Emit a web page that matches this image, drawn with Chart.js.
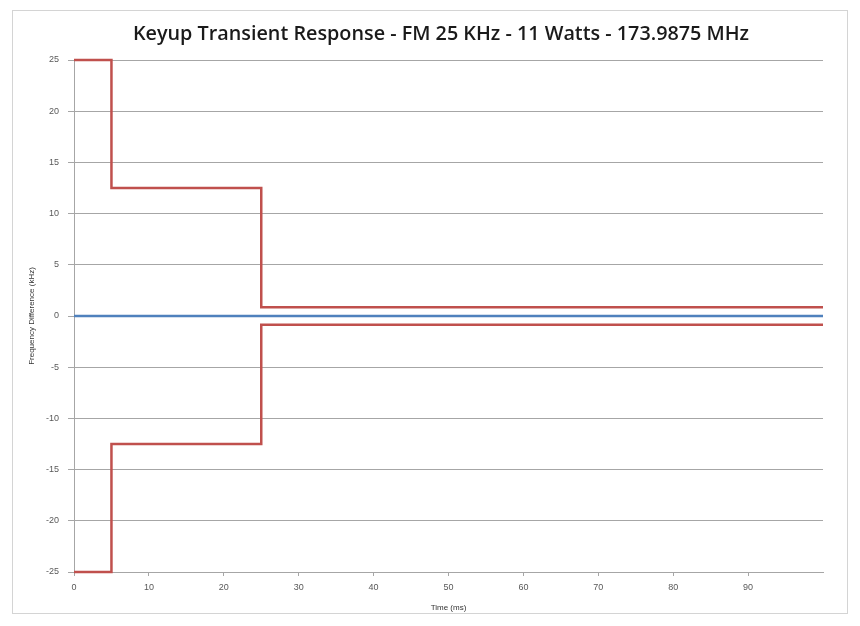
<!DOCTYPE html>
<html>
<head>
<meta charset="utf-8">
<script src="https://cdn.jsdelivr.net/npm/chart.js@4"></script>
<style>
  html, body { margin: 0; padding: 0; background: #ffffff; }
  .frame {
    position: absolute; left: 12px; top: 10px;
    width: 834px; height: 602px;
    border: 1px solid #d4d4d4; background: #fff;
  }
  canvas { display: block; }
</style>
</head>
<body>
<div class="frame"><canvas id="chart" width="834" height="602"></canvas></div>
<script>
// step points (time in ms, frequency difference in kHz)
const maskTime = [0, 5, 25, 100];
const upperLimit = [25, 12.5, 0.85, 0.85];
const lowerLimit = [-25, -12.5, -0.85, -0.85];
const responseTime = [0, 100];
const responseFreq = [0, 0];

const xTicks = [0, 10, 20, 30, 40, 50, 60, 70, 80, 90];

const chartTitle = 'Keyup Transient Response - FM 25 KHz - 11 Watts - 173.9875 MHz';

const red = '#c0504d';
const blue = '#4f81bd';
const tickColor = '#595959';

const toPoints = (xs, ys) => xs.map((x, i) => ({ x: x, y: ys[i] }));

// Excel puts the title over the whole chart frame, not the plot area
const titlePlugin = {
    id: 'frameTitle',
    afterDraw(chart) {
        const ctx = chart.ctx;
        ctx.save();
        ctx.font = '600 19.8px "Open Sans"';
        ctx.fillStyle = '#1a1a1a';
        ctx.textAlign = 'center';
        ctx.textBaseline = 'middle';
        ctx.fillText(chartTitle, chart.width / 2 + 11, 23);
        ctx.restore();
    },
};

new Chart(document.getElementById('chart'), {
    type: 'line',
    data: {
        datasets: [
            {
                label: 'Upper limit',
                data: toPoints(maskTime, upperLimit),
                borderColor: red,
                borderWidth: 2.5,
                stepped: 'before',
                pointRadius: 0,
                clip: 4,
            },
            {
                label: 'Lower limit',
                data: toPoints(maskTime, lowerLimit),
                borderColor: red,
                borderWidth: 2.5,
                stepped: 'before',
                pointRadius: 0,
                clip: 4,
            },
            {
                label: 'Response',
                data: toPoints(responseTime, responseFreq),
                borderColor: blue,
                borderWidth: 2.5,
                pointRadius: 0,
            },
        ],
    },
    plugins: [titlePlugin],
    options: {
        responsive: false,
        animation: false,
        layout: { padding: { left: 0, right: 24, top: 49, bottom: 0 } },
        plugins: {
            legend: { display: false },
            tooltip: { enabled: false },
            title: { display: false },
        },
        scales: {
            x: {
                type: 'linear',
                min: 0,
                max: 100,
                afterBuildTicks: (scale) => {
                    scale.ticks = xTicks.map(v => ({ value: v }));
                },
                afterFit: (scale) => { scale.height = 41; },
                grid: { drawOnChartArea: false, drawTicks: true, tickLength: 4, color: '#a6a6a6' },
                border: { color: '#a6a6a6' },
                ticks: {
                    color: tickColor,
                    font: { family: 'Liberation Sans', size: 9 },
                    padding: 6,
                    maxRotation: 0,
                },
                title: {
                    display: true,
                    text: 'Time (ms)',
                    color: '#333',
                    font: { family: 'Liberation Sans', size: 8 },
                    padding: { top: 2, bottom: 0 },
                },
            },
            y: {
                type: 'linear',
                min: -25,
                max: 25,
                afterFit: (scale) => { scale.width = 61; },
                grid: { color: '#a6a6a6', tickLength: 6 },
                border: { color: '#a6a6a6' },
                ticks: {
                    stepSize: 5,
                    color: tickColor,
                    font: { family: 'Liberation Sans', size: 9 },
                    padding: 9,
                },
                title: {
                    display: true,
                    text: 'Frequency Difference (kHz)',
                    color: '#333',
                    font: { family: 'Liberation Sans', size: 8 },
                    padding: { top: 14, bottom: 0 },
                },
            },
        },
    },
});
</script>
</body>
</html>
